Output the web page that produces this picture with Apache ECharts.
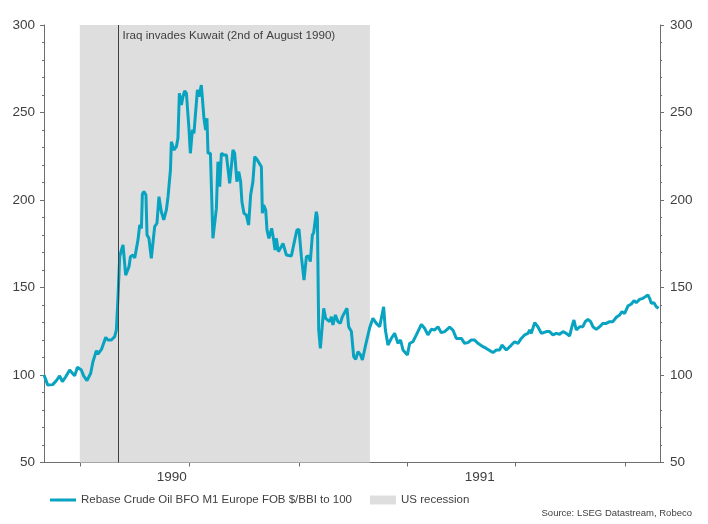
<!DOCTYPE html>
<html>
<head>
<meta charset="utf-8">
<script src="https://cdn.jsdelivr.net/npm/echarts@6/dist/echarts.min.js"></script>
<style>html,body{margin:0;padding:0;background:#fff}#c{width:708px;height:524px}</style>
</head>
<body>
<div id="c"></div>
<script>
// ---- data ----
const startDate = '1990-06-01';
const endDate = '1991-10-30';
const seriesName = 'Rebase Crude Oil BFO M1 Europe FOB $/BBI to 100';
const recessionName = 'US recession';
const recession = ['1990-07-01', '1991-03-01'];
const eventDate = '1990-08-02';
const eventText = 'Iraq invades Kuwait (2nd of August 1990)';
const quarterTicks = ['1990-07-01', '1990-10-01', '1991-01-01', '1991-04-01', '1991-07-01', '1991-10-01'];
const yearLabelDates = ['1990-09-16', '1991-06-01'];
const yearLabels = ['1990', '1991'];
const sourceText = 'Source: LSEG Datastream, Robeco';

// days since startDate
const dayOffsets = [0,1.4,3.1,7.3,10.6,13.1,15.4,18.2,21.5,25.7,28.0,31.3,33.2,36.0,39.1,41.0,43.9,45.2,48.1,49.4,
51.7,53.6,56.4,59.2,60.6,62.0,63.4,64.7,66.2,68.4,71.2,72.4,74.5,76.0,78.7,80.2,81.6,82.4,83.7,85.4,
86.3,87.9,89.9,91.3,92.7,94.6,96.3,98.3,100.3,102.5,103.9,105.9,106.7,108.9,110.9,112.2,113.4,115.1,116.4,117.8,
119.3,121.4,122.6,124.3,125.6,128.5,129.8,131.8,134.0,135.4,136.5,137.4,139.4,141.5,144.4,145.7,147.2,148.6,150.5,152.8,
155.5,157.0,158.3,159.7,161.6,163.1,164.7,165.8,167.5,169.5,171.4,173.1,175.0,176.5,178.1,182.1,182.9,184.0,185.7,186.8,
188.4,190.7,192.4,193.5,194.6,196.3,198.8,200.2,203.0,207.2,210.0,211.9,213.6,215.6,217.8,219.8,221.7,223.1,224.8,225.9,
228.1,229.0,230.1,231.5,234.3,235.9,239.3,240.7,242.0,244.1,246.2,248.2,249.9,253.8,255.2,257.5,259.4,261.1,263.0,265.2,
266.7,269.4,272.8,275.5,278.4,281.2,284.5,285.9,288.1,291.0,293.7,296.5,298.7,300.7,302.1,304.4,306.3,309.0,311.9,316.1,
318.8,321.6,324.5,327.2,330.0,332.8,335.6,339.8,342.5,345.4,349.6,352.3,355.1,357.9,360.7,363.5,367.7,370.5,373.3,376.0,
378.9,381.7,383.6,387.3,391.5,394.2,397.0,399.8,402.6,405.4,406.8,408.2,411.0,413.7,416.6,420.8,423.5,426.3,429.1,431.9,
434.7,437.5,440.3,442.2,443.9,445.9,448.7,451.4,453.4,455.6,457.9,459.8,462.6,465.4,468.2,471.0,473.8,476.5,479.4,482.2,
484.1,486.4,489.1,492.0,494.2,496.1,498.9,501.7,504.0,505.9,507.3,508.7,510.9,512.9,514.8];

const oilIndex = [100,97.5,94.3,94.5,97,99.5,96.2,99,102.9,99.5,104.4,102.9,99.5,96.8,101,107.6,113.9,112,114.6,115.2,
121.5,120,120,121.9,125.7,144.7,167.6,171,174.3,157.1,161.9,167.6,168.6,166.9,177.1,185.7,183.8,203.4,204.8,202.9,
180,178.1,166.7,165.7,184.8,186.7,201.9,193.3,188.6,194.3,201.9,217,233.3,228.6,230.5,235.2,261,254.3,259,262.3,
261,241,226.7,240,238.1,262.9,259,265.7,246.7,240,246.7,226.7,226.7,178.1,195.2,221.9,207.6,226.7,225.7,225.7,
209.5,210.5,228.6,226.7,210.5,216.2,210.5,199,192.4,191.4,185.7,202.9,210.5,224.8,223.5,219,192.4,197.1,194.3,182.9,
178.1,183.8,177.1,171.4,178.1,170.5,173.3,175.2,168.6,168,177.1,182.9,183.2,167.6,154.3,167.6,168,164.8,180,181.3,
193.3,190,125.7,115.2,138.1,132.4,130.5,133.3,128.6,134.3,130.5,129.5,133.3,138.1,127.6,124.8,110.5,109,113.3,111.4,
108.6,117.1,127,132.4,129.5,127.6,139,126,117.1,121,123.8,118.1,120,114.3,113.3,111.4,118.1,119,122.9,128.9,
126.7,122.9,126.1,125.7,127.6,124.2,124.8,127.3,125.7,120.9,120.9,118.1,118.5,120,120,118.1,116.2,115.2,114,112.8,
114.3,114.3,117.1,114.3,117.1,119,118.1,120.9,122.9,123.8,125.7,123.8,129.9,127.6,123.8,124.8,124.8,122.9,123.8,123.3,
124.8,123.8,122.3,127.6,131.4,125.7,127.6,127.6,130.5,131.8,130.5,127.6,126.1,127.6,129.5,129.5,130.5,130.5,133,134.3,
136.2,135.2,139.4,140.6,142.5,141.3,143.2,143.8,144.8,145.7,143.8,141,141.3,139,138.1];

const yMin = 50, yMax = 300, yInterval = 50;

// ---- build ----
const DAY = 86400000;
const t = s => Date.parse(s + 'T00:00:00Z');
const t0 = t(startDate);
const lineData = dayOffsets.map((d, i) => [t0 + d * DAY, oilIndex[i]]);
const labelVals = yearLabelDates.map(t);

const txt = '#404040';
const axisCol = '#6e6e6e';
const lineCol = '#08a3c1';
const FONT = 'Liberation Sans, Arial, sans-serif';

const yAxisBase = {
  type: 'value', min: yMin, max: yMax, interval: yInterval,
  axisLine: { show: true, lineStyle: { color: axisCol, width: 1 } },
  axisTick: { show: true, length: 4, lineStyle: { color: axisCol } },
  minorTick: { show: true, splitNumber: 5, length: 2, lineStyle: { color: axisCol } },
  splitLine: { show: false },
  axisLabel: { color: txt, fontSize: 13.5, fontFamily: FONT }
};

const chart = echarts.init(document.getElementById('c'), null, { renderer: 'canvas' });
chart.setOption({
  animation: false,
  backgroundColor: '#fff',
  textStyle: { fontFamily: FONT },
  grid: { left: 44, right: 48, top: 25, bottom: 61.5, containLabel: false, outerBoundsMode: 'none' },
  title: {
    text: sourceText, right: 16, top: 508, padding: 0,
    textStyle: { color: txt, fontSize: 9.5, fontWeight: 'normal', fontFamily: FONT }
  },
  legend: {
    left: 50, top: 494, padding: 0, itemGap: 18, itemWidth: 26, itemHeight: 9,
    selectedMode: false, symbolKeepAspect: true,
    textStyle: { color: txt, fontSize: 11.5, fontFamily: FONT },
    data: [
      { name: seriesName, icon: 'path://M0,0H26V3H0Z', itemStyle: { color: lineCol } },
      { name: recessionName, icon: 'rect', itemStyle: { color: '#dedede' } }
    ]
  },
  xAxis: {
    type: 'value', min: t0, max: t(endDate),
    axisLine: { show: true, onZero: false, lineStyle: { color: axisCol, width: 1 } },
    axisTick: { show: true, length: 4, customValues: quarterTicks.map(t), lineStyle: { color: axisCol } },
    splitLine: { show: false },
    axisLabel: {
      customValues: labelVals, margin: 8, color: txt, fontSize: 13.5, fontFamily: FONT,
      formatter: v => yearLabels[labelVals.indexOf(v)] ?? String(new Date(v).getUTCFullYear())
    }
  },
  yAxis: [
    Object.assign({}, yAxisBase, { position: 'left', axisLabel: Object.assign({}, yAxisBase.axisLabel, { margin: 9 }) }),
    Object.assign({}, yAxisBase, { position: 'right', axisLabel: Object.assign({}, yAxisBase.axisLabel, { margin: 10 }) })
  ],
  series: [
    {
      name: recessionName, type: 'line', data: [], symbol: 'none',
      itemStyle: { color: '#dedede' },
      markArea: {
        silent: true,
        itemStyle: { color: '#dedede', opacity: 1 },
        data: [[{ xAxis: t(recession[0]) }, { xAxis: t(recession[1]) }]]
      }
    },
    {
      name: seriesName, type: 'line', data: lineData, symbol: 'none', showSymbol: false,
      lineStyle: { color: lineCol, width: 3 }, itemStyle: { color: lineCol },
      z: 3,
      markLine: {
        silent: true, symbol: 'none', animation: false,
        lineStyle: { color: '#404040', width: 1, type: 'solid' },
        label: { show: false },
        data: [{ xAxis: t(eventDate) }]
      },
      markPoint: {
        silent: true,
        data: [{
          coord: [t(eventDate), yMax], symbol: 'rect', symbolSize: 1,
          itemStyle: { color: 'rgba(0,0,0,0)' },
          label: { show: true, position: 'right', distance: 4, offset: [0, 11],
                   formatter: eventText, color: txt, fontSize: 11.6, fontFamily: FONT }
        }]
      }
    }
  ]
});
</script>
</body>
</html>
